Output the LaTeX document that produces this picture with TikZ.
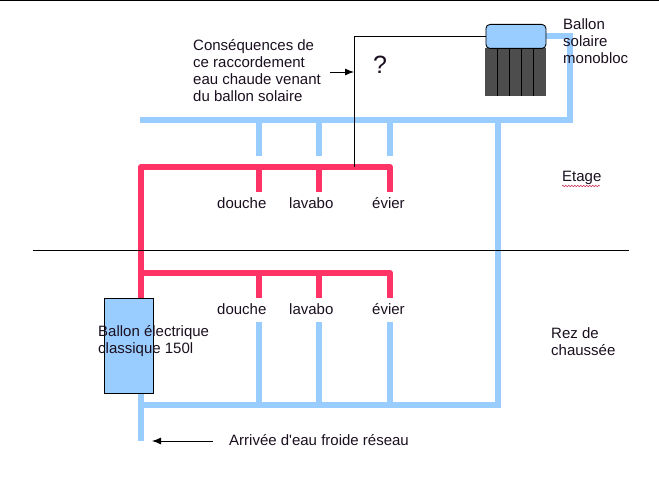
\documentclass[tikz,border=0pt]{standalone}
\usepackage{fontspec}
\setmainfont{Liberation Sans}
\usepackage{xcolor}
\usetikzlibrary{arrows.meta,decorations.pathmorphing}
\definecolor{coldpipe}{HTML}{99CCFF}
\definecolor{hotpipe}{HTML}{FF3366}
\definecolor{panel}{HTML}{4D4D4D}
\definecolor{inktext}{HTML}{1A0F1F}
\begin{document}
\begin{tikzpicture}[
  x=1pt,y=-1pt,
  lbl/.style={anchor=west,inner sep=0pt,align=left,text=inktext,font=\fontsize{15}{17}\selectfont},
  cold/.style={draw=coldpipe,line width=6pt},
  hot/.style={draw=hotpipe,line width=6pt,line join=round},
  rule/.style={draw=black,line width=0.9pt},
  arr/.style={-{Latex[length=9pt,width=7pt]},rule}
]
\useasboundingbox (0,0) rectangle (659,484);
% coordinates of the pipes
\coordinate (topl) at (140,120);
\coordinate (topr) at (570,120);
\coordinate (topc) at (570,36);
\coordinate (d1) at (259,120);
\coordinate (d2) at (319,120);
\coordinate (d3) at (390,120);
\coordinate (d1e) at (259,156);
\coordinate (d2e) at (319,156);
\coordinate (d3e) at (390,156);
\coordinate (main) at (498,120);
\coordinate (maine) at (498,408);
\coordinate (botl) at (141,405);
\coordinate (botr) at (498,405);
\coordinate (b1) at (259,405);
\coordinate (b2) at (319,405);
\coordinate (b3) at (390,405);
\coordinate (b1e) at (259,322);
\coordinate (b2e) at (319,322);
\coordinate (b3e) at (390,322);
\coordinate (inl) at (141,441);
\coordinate (hup) at (141,167);
\coordinate (h1) at (259,167);
\coordinate (h2) at (319,167);
\coordinate (h3) at (390,167);
\coordinate (h1e) at (259,192);
\coordinate (h2e) at (319,192);
\coordinate (h3e) at (390,192);
\coordinate (hmid) at (141,273);
\coordinate (m1) at (259,273);
\coordinate (m2) at (319,273);
\coordinate (m3) at (390,273);
\coordinate (m1e) at (259,298);
\coordinate (m2e) at (319,298);
\coordinate (m3e) at (390,298);
\coordinate (hdown) at (141,300);
\coordinate (tap) at (354,167);
\coordinate (corner) at (354,36);
\coordinate (ltop) at (0,0.5);
\coordinate (rtop) at (659,0.5);
\coordinate (lfloor) at (33,250);
\coordinate (rfloor) at (629,250);
\coordinate (qfrom) at (330,72);
\coordinate (qto) at (354,72);
\coordinate (cfrom) at (213,441);
\coordinate (cto) at (152,441);
% blue pipes
\draw[cold] (topl)--(topr)--(topc)--(540,36);
\draw[cold] (d1)--(d1e);
\draw[cold] (d2)--(d2e);
\draw[cold] (d3)--(d3e);
\draw[cold] (main)--(maine);
\draw[cold] (botl)--(botr);
\draw[cold] (b1)--(b1e);
\draw[cold] (b2)--(b2e);
\draw[cold] (b3)--(b3e);
\draw[cold] (141,393)--(inl);
% red pipes
\draw[hot] (h3e)--(h3)--(hup)--(hdown);
\draw[hot] (h1)--(h1e);
\draw[hot] (h2)--(h2e);
\draw[hot] (m3e)--(m3)--(hmid);
\draw[hot] (m1)--(m1e);
\draw[hot] (m2)--(m2e);
% tanks
\node[draw=black,line width=0.9pt,fill=coldpipe,minimum width=49pt,minimum height=95pt,inner sep=0pt,anchor=north west] (elec) at (104,298) {};
\node[fill=panel,minimum width=61pt,minimum height=48pt,inner sep=0pt,anchor=north west] (coll) at (485,48) {};
\draw[rule] (497,48)--(497,96);
\draw[rule] (509.5,48)--(509.5,96);
\draw[rule] (521.5,48)--(521.5,96);
\draw[rule] (533.5,48)--(533.5,96);
\node[draw=black,line width=0.9pt,fill=coldpipe,rounded corners=4pt,minimum width=60pt,minimum height=24pt,inner sep=0pt,anchor=north west] (solar) at (485.5,24) {};
% lines
\draw[rule] (ltop)--(rtop);
\draw[rule] (lfloor)--(rfloor);
\draw[rule] (tap)--(corner)--(solar.west |- corner);
\draw[arr] (qfrom)--(qto);
\draw[arr] (cfrom)--(cto);
% labels
\node[lbl] (cons) at (193,71) {Conséquences de\\ce raccordement\\eau chaude venant\\du ballon solaire};
\node[lbl,font=\fontsize{25}{25}\selectfont] (quest) at (373,65) {?};
\node[lbl] (mono) at (563,41) {Ballon\\solaire\\monobloc};
\node[lbl] (etage) at (562,178) {Etage};
\draw[hotpipe!80!black,line width=0.5pt,decorate,decoration={zigzag,amplitude=0.8pt,segment length=3pt}] (562,186)--(600,186);
\node[lbl] (dou1) at (217,203) {douche};
\node[lbl] (lav1) at (289,203) {lavabo};
\node[lbl] (evi1) at (372,203) {évier};
\node[lbl] (dou2) at (217,309) {douche};
\node[lbl] (lav2) at (289,309) {lavabo};
\node[lbl] (evi2) at (372,309) {évier};
\node[lbl] (class) at (98,341) {Ballon électrique\\classique 150l};
\node[lbl] (rez) at (551,342) {Rez de\\chaussée};
\node[lbl] (arrivee) at (229,440) {Arrivée d\textquotesingle eau froide réseau};
\end{tikzpicture}
\end{document}
